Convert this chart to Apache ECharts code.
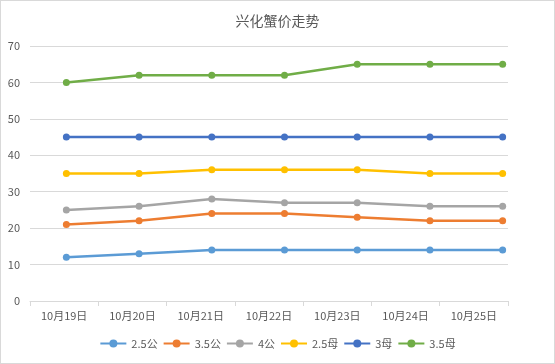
<!DOCTYPE html>
<html><head><meta charset="utf-8">
<script src="https://cdn.jsdelivr.net/npm/echarts@6/dist/echarts.min.js"></script>
<style>html,body{margin:0;padding:0;background:#fff}#c{width:553px;height:362px;border:1px solid #d9d9d9}</style>
</head><body><div id="c"></div>
<script>
const title = '兴化蟹价走势';
const categories = ['10月19日','10月20日','10月21日','10月22日','10月23日','10月24日','10月25日'];
const seriesNames = ['2.5公','3.5公','4公','2.5母','3母','3.5母'];
const s25gong = [12,13,14,14,14,14,14];
const s35gong = [21,22,24,24,23,22,22];
const s4gong = [25,26,28,27,27,26,26];
const s25mu = [35,35,36,36,36,35,35];
const s3mu = [45,45,45,45,45,45,45];
const s35mu = [60,62,62,62,65,65,65];
const yTicks = [0,10,20,30,40,50,60,70];
const colors = ['#5B9BD5','#ED7D31','#A5A5A5','#FFC000','#4472C4','#70AD47'];
const values = [s25gong,s35gong,s4gong,s25mu,s3mu,s35mu];
const font = '"Noto Sans CJK SC", sans-serif';
const chart = echarts.init(document.getElementById('c'));
chart.setOption({
  animation:false,
  color:colors,
  title:{text:title,left:'center',top:8,textStyle:{fontFamily:font,fontSize:14,fontWeight:'normal',color:'#595959'}},
  legend:{bottom:9,left:'center',itemWidth:26,itemHeight:10,itemGap:5,
    textStyle:{fontFamily:font,fontSize:11,color:'#595959'},data:seriesNames},
  grid:[{left:29,right:46,top:45,bottom:62},{left:29,right:15,top:45,bottom:62}],
  xAxis:[{type:'category',gridIndex:0,data:categories,boundaryGap:true,
    axisLine:{lineStyle:{color:'#d9d9d9'}},axisTick:{show:true,length:5,lineStyle:{color:'#d9d9d9'}},
    axisLabel:{fontFamily:font,fontSize:11,color:'#595959',margin:9,interval:0}},
    {type:'category',gridIndex:1,data:categories,boundaryGap:true,show:false}],
  yAxis:[{type:'value',gridIndex:0,min:yTicks[0],max:yTicks[yTicks.length-1],interval:10,
    axisLine:{show:false},axisTick:{show:false},splitLine:{lineStyle:{color:'#d9d9d9'}},
    axisLabel:{fontFamily:font,fontSize:11,color:'#595959',margin:10}},
    {type:'value',gridIndex:1,min:yTicks[0],max:yTicks[yTicks.length-1],interval:10,show:false}],
  series:seriesNames.map((n,i)=>({name:n,type:'line',xAxisIndex:1,yAxisIndex:1,data:values[i],
    symbol:'circle',symbolSize:7,lineStyle:{width:2.5,color:colors[i]},itemStyle:{color:colors[i]}}))
});
</script></body></html>
